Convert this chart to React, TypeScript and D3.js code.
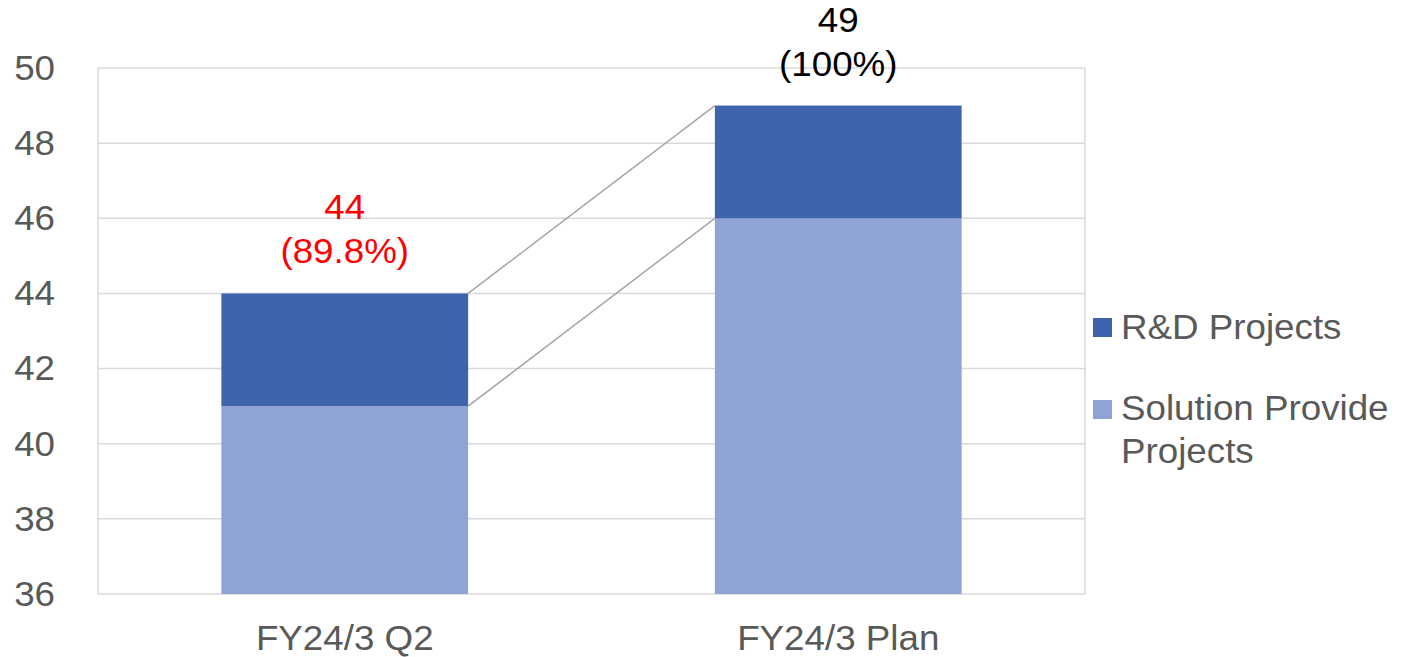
import React from "react";
import * as d3 from "d3";

const categories = ["FY24/3 Q2", "FY24/3 Plan"];
const solutionProvide = [41, 46];
const rdProjects = [3, 3];
const totalLabels = ["44", "49"];
const shareLabels = ["(89.8%)", "(100%)"];
const labelColors = ["#FF0000", "#000000"];
const yTicks = [36, 38, 40, 42, 44, 46, 48, 50];

const W = 1405;
const H = 657;
const plot = { left: 98, right: 1085, top: 68, bottom: 594 };
const FONT = "'Liberation Sans', Arial, sans-serif";
const DARK = "#3D64AD";
const LIGHT = "#8FA3D4";
const GRID = "#D9D9D9";
const TEXT = "#595959";
const FS = 35;
const SX = 1.05;

type TProps = {
  x: number;
  y: number;
  anchor?: "start" | "middle" | "end";
  fill?: string;
  dy?: string;
  children: React.ReactNode;
};

// text with slightly wide glyphs, scaled horizontally around its anchor point
function T({ x, y, anchor = "start", fill = TEXT, dy, children }: TProps) {
  return (
    <text
      transform={`translate(${x},${y}) scale(${SX},1)`}
      dy={dy}
      textAnchor={anchor}
      fontSize={FS}
      fill={fill}
    >
      {children}
    </text>
  );
}

export default function App() {
  const x = d3.scaleBand<string>().domain(categories).range([plot.left, plot.right]).padding(0);
  const y = d3.scaleLinear().domain([36, 50]).range([plot.bottom, plot.top]);
  const barW = x.bandwidth() * 0.5;
  const barX = (c: string) => (x(c) as number) + (x.bandwidth() - barW) / 2;

  const stacked = categories.map((c, i) => ({
    c,
    base: solutionProvide[i],
    total: solutionProvide[i] + rdProjects[i],
  }));

  return (
    <svg width={W} height={H} style={{ display: "block", position: "absolute", left: 0, top: 0 }} fontFamily={FONT}>
      <rect width={W} height={H} fill="#fff" />
      {/* horizontal gridlines */}
      {yTicks.map((t) => (
        <line key={t} x1={plot.left} x2={plot.right} y1={y(t)} y2={y(t)} stroke={GRID} strokeWidth={1.5} />
      ))}
      {/* plot area border sides */}
      <line x1={plot.left} x2={plot.left} y1={plot.top} y2={plot.bottom} stroke={GRID} strokeWidth={1.5} />
      <line x1={plot.right} x2={plot.right} y1={plot.top} y2={plot.bottom} stroke={GRID} strokeWidth={1.5} />

      {/* y tick labels */}
      {yTicks.map((t) => (
        <T key={t} x={55} y={y(t)} dy="0.34em" anchor="end">
          {t}
        </T>
      ))}

      {/* stacked bars */}
      {stacked.map((d) => (
        <g key={d.c}>
          <rect x={barX(d.c)} width={barW} y={y(d.base)} height={y(36) - y(d.base)} fill={LIGHT} />
          <rect x={barX(d.c)} width={barW} y={y(d.total)} height={y(d.base) - y(d.total)} fill={DARK} />
        </g>
      ))}

      {/* series connector lines */}
      {[
        [stacked[0].total, stacked[1].total],
        [stacked[0].base, stacked[1].base],
      ].map(([a, b], i) => (
        <line
          key={i}
          x1={barX(categories[0]) + barW}
          y1={y(a)}
          x2={barX(categories[1])}
          y2={y(b)}
          stroke="#A6A6A6"
          strokeWidth={1.5}
        />
      ))}

      {/* total labels */}
      {stacked.map((d, i) => {
        const cx = (x(d.c) as number) + x.bandwidth() / 2;
        const top = y(d.total);
        return (
          <g key={d.c}>
            <T x={cx} y={top - 74} anchor="middle" fill={labelColors[i]}>{totalLabels[i]}</T>
            <T x={cx} y={top - 30} anchor="middle" fill={labelColors[i]}>{shareLabels[i]}</T>
          </g>
        );
      })}

      {/* x axis labels */}
      {categories.map((c) => (
        <T key={c} x={(x(c) as number) + x.bandwidth() / 2} y={650} anchor="middle">
          {c}
        </T>
      ))}

      {/* legend */}
      <rect x={1093} y={318} width={19} height={19} fill={DARK} />
      <T x={1121} y={339}>R&amp;D Projects</T>
      <rect x={1093} y={400} width={19} height={19} fill={LIGHT} />
      <T x={1121} y={420}>Solution Provide</T>
      <T x={1121} y={463}>Projects</T>
    </svg>
  );
}
